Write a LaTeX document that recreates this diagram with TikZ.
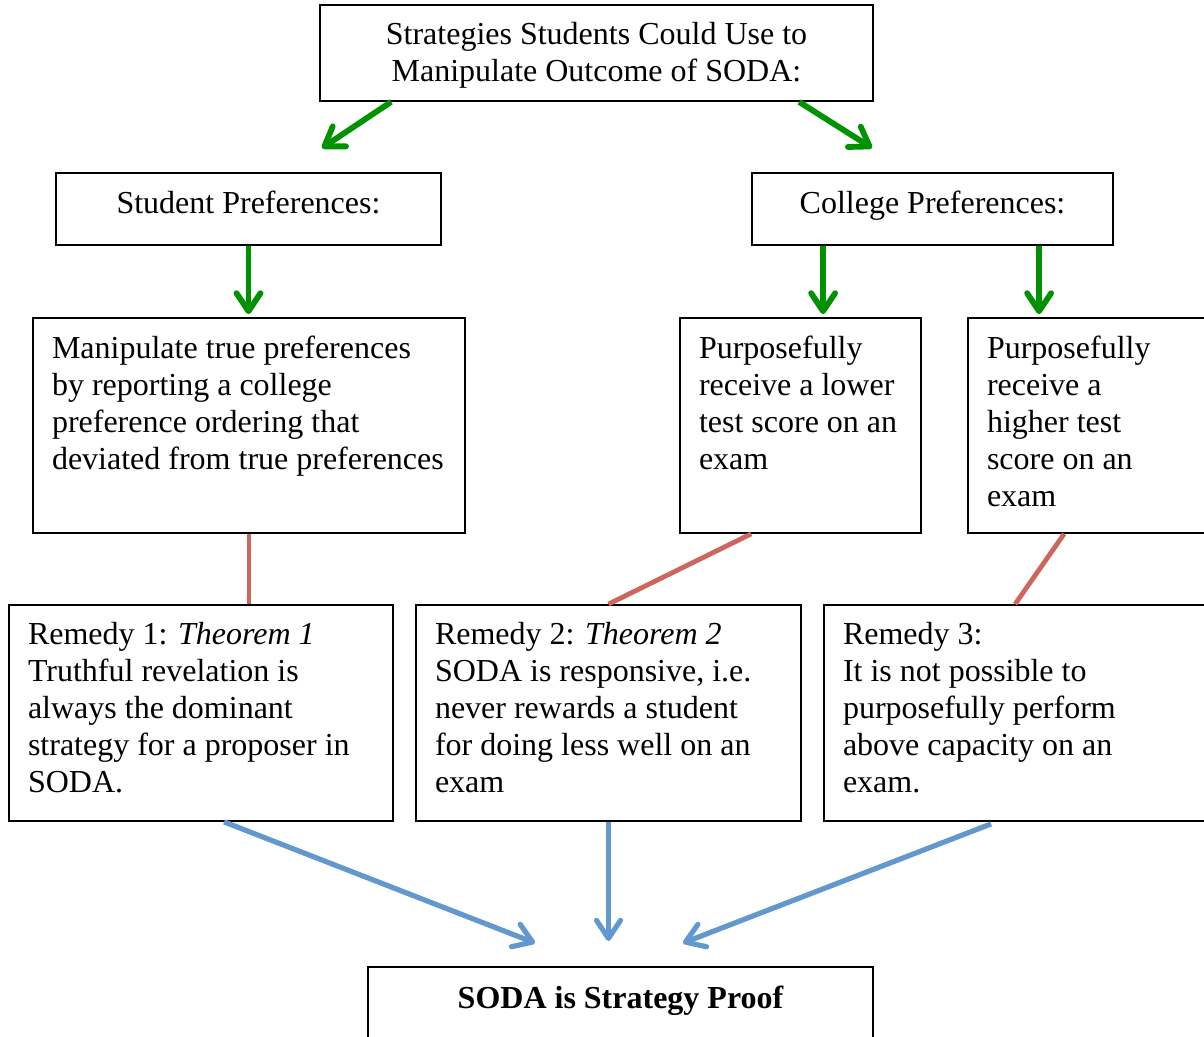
\documentclass[tikz,border=0pt]{standalone}
\usepackage{fontspec}
\setmainfont{Liberation Serif}
\usetikzlibrary{arrows.meta,calc,fit}
\definecolor{grn}{RGB}{0,146,0}
\definecolor{redl}{RGB}{205,102,92}
\definecolor{blu}{RGB}{99,152,206}
\begin{document}
\begin{tikzpicture}[x=0.5pt,y=-0.5pt,
  box/.style={draw=black, line width=0.9pt, inner sep=0pt},
  txt/.style={font=\fontsize{16}{18.5}\selectfont, inner sep=0pt, align=left},
  txtc/.style={txt, align=center},
  garr/.style={draw=grn, line width=2.9pt, -{Straight Barb[length=9pt,width=12pt,round]}},
  rline/.style={draw=redl, line width=2.4pt},
  barr/.style={draw=blu, line width=2.6pt, -{Straight Barb[length=9pt,width=12pt,round]}}]
\useasboundingbox (0,0) rectangle (1204,1037);
\clip (0,0) rectangle (1204,1037);
% boxes
\node[box, fit={(320,5) (873,101)}] (top) {};
\node[box, fit={(56,173) (441,245)}] (sp) {};
\node[box, fit={(752,173) (1113,245)}] (cp) {};
\node[box, fit={(33,318) (465,533)}] (manip) {};
\node[box, fit={(680,318) (921,533)}] (lower) {};
\node[box, fit={(968,318) (1230,533)}] (higher) {};
\node[box, fit={(9,605) (393,821)}] (rem1) {};
\node[box, fit={(416,605) (801,821)}] (rem2) {};
\node[box, fit={(824,605) (1230,821)}] (rem3) {};
\node[box, fit={(368,967) (873,1060)}] (final) {};
% texts
\node[txtc, anchor=north] (topT) at ($(top.north)+(0,18)$) {Strategies Students Could Use to\\Manipulate Outcome of SODA:};
\node[txtc, anchor=north] (spT) at ($(sp.north)+(0,18)$) {Student Preferences:};
\node[txtc, anchor=north] (cpT) at ($(cp.north)+(0,18)$) {College Preferences:};
\node[txt, anchor=north west] (manipT) at ($(manip.north west)+(19.5,18)$) {Manipulate true preferences\\by reporting a college\\preference ordering that\\deviated from true preferences};
\node[txt, anchor=north west] (lowerT) at ($(lower.north west)+(19.5,18)$) {Purposefully\\receive a lower\\test score on an\\exam};
\node[txt, anchor=north west] (higherT) at ($(higher.north west)+(19.5,18)$) {Purposefully\\receive a\\higher test\\score on an\\exam};
\node[txt, anchor=north west] (rem1T) at ($(rem1.north west)+(19.5,18)$) {Remedy 1: \textit{Theorem 1}\\Truthful revelation is\\always the dominant\\strategy for a proposer in\\SODA.};
\node[txt, anchor=north west] (rem2T) at ($(rem2.north west)+(19.5,18)$) {Remedy 2: \textit{Theorem 2}\\SODA is responsive, i.e.\\never rewards a student\\for doing less well on an\\exam};
\node[txt, anchor=north west] (rem3T) at ($(rem3.north west)+(19.5,18)$) {Remedy 3:\\It is not possible to\\purposefully perform\\above capacity on an\\exam.};
\node[txtc, anchor=north, font=\fontsize{16}{18.5}\selectfont\bfseries] (finalT) at ($(final.north)+(0,19)$) {SODA is Strategy Proof};
% green arrows
\coordinate (g1) at (322,148);
\coordinate (g2) at (872,148);
\draw[garr] ($(top.south west)+(72,0)$) -- (g1);
\draw[garr] ($(top.south west)+(480,0)$) -- (g2);
\draw[garr, shorten >=1.5pt] (sp.south) -- (sp.south |- manip.north);
\coordinate (c1) at ($(cp.south west)+(72,0)$);
\coordinate (c2) at ($(cp.south west)+(288,0)$);
\draw[garr, shorten >=1.5pt] (c1) -- (c1 |- lower.north);
\draw[garr, shorten >=1.5pt] (c2) -- (c2 |- higher.north);
% red lines
\draw[rline] (manip.south) -- (manip.south |- rem1.north);
\draw[rline] ($(lower.south west)+(72,0)$) -- (rem2.north);
\draw[rline] ($(higher.south west)+(97,0)$) -- ($(rem3.north west)+(192,0)$);
% blue arrows
\coordinate (b1) at (535,943);
\coordinate (b2) at (608.5,941);
\coordinate (b3) at (683,943);
\draw[barr] ($(rem1.south west)+(216,0)$) -- (b1);
\draw[barr] (rem2.south) -- (b2);
\draw[barr] ($(rem3.south west)+(168,2)$) -- (b3);
\end{tikzpicture}
\end{document}
